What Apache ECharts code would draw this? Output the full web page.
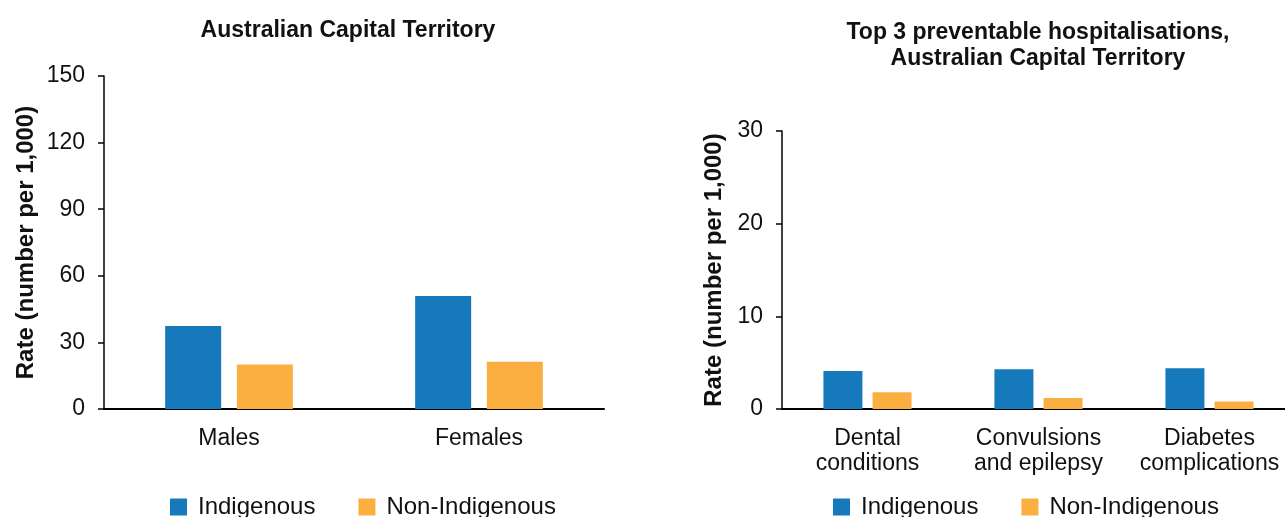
<!DOCTYPE html>
<html>
<head>
<meta charset="utf-8">
<script src="https://cdn.jsdelivr.net/npm/echarts@6/dist/echarts.min.js"></script>
<style>
  html, body { margin: 0; padding: 0; background: #fff; }
  #chart { width: 1285px; height: 517px; }
</style>
</head>
<body>
<div id="chart"></div>
<script>
"use strict";

const seriesNames = ["Indigenous", "Non-Indigenous"];

// left panel: rates by sex
const sexCategories = ["Males", "Females"];
const sexIndigenous = [37.4, 50.9];
const sexNonIndigenous = [20.0, 21.3];
const sexTicks = [0, 30, 60, 90, 120, 150];

// right panel: top 3 preventable hospitalisations
const condCategories = ["Dental\nconditions", "Convulsions\nand epilepsy", "Diabetes\ncomplications"];
const condIndigenous = [4.1, 4.3, 4.4];
const condNonIndigenous = [1.8, 1.2, 0.8];
const condTicks = [0, 10, 20, 30];

const BLUE = "#1579bb";
const ORANGE = "#fbaf41";
const FONT = "Liberation Sans, Arial, sans-serif";
const TEXT = "#111";

const chart = echarts.init(document.getElementById("chart"));

const yAxisBase = (ticks, gridIndex, nameGap) => ({
  type: "value",
  gridIndex,
  min: ticks[0],
  max: ticks[ticks.length - 1],
  interval: ticks[1] - ticks[0],
  name: "Rate (number per 1,000)",
  nameLocation: "middle",
  nameRotate: 90,
  nameGap,
  nameTextStyle: { fontFamily: FONT, fontSize: 24, fontWeight: "bold", color: TEXT },
  axisLine: { show: true, lineStyle: { color: "#000", width: 1.5 } },
  axisTick: { show: true, length: 6, lineStyle: { color: "#000", width: 1.5 } },
  axisLabel: { fontFamily: FONT, fontSize: 23, color: TEXT, margin: 19 },
  splitLine: { show: false },
});

const xAxisBase = (cats, gridIndex) => ({
  type: "category",
  gridIndex,
  data: cats,
  axisLine: { show: true, lineStyle: { color: "#000", width: 2 } },
  axisTick: { show: false },
  axisLabel: { fontFamily: FONT, fontSize: 23, color: TEXT, margin: 17, lineHeight: 25, interval: 0 },
});

const legendBase = (left) => ({
  data: seriesNames,
  left,
  top: 495,
  padding: 0,
  itemWidth: 17,
  itemHeight: 17,
  itemGap: 43,
  icon: "rect",
  textStyle: { fontFamily: FONT, fontSize: 24, color: TEXT, padding: [0, 0, 0, 6] },
});

/** @type {echarts.EChartsOption} */
const options = {
  animation: false,
  backgroundColor: "#fff",
  title: [
    {
      text: "Australian Capital Territory",
      left: 343,
      textAlign: "center",
      top: 14,
      textStyle: { fontFamily: FONT, fontSize: 23, fontWeight: "bold", color: TEXT },
    },
    {
      text: "Top 3 preventable hospitalisations,\nAustralian Capital Territory",
      left: 1033,
      textAlign: "center",
      top: 15,
      textStyle: { fontFamily: FONT, fontSize: 23, fontWeight: "bold", color: TEXT, lineHeight: 26 },
    },
  ],
  legend: [legendBase(170), legendBase(833)],
  grid: [
    { left: 104, top: 76, width: 500, height: 333, outerBoundsMode: "none" },
    { left: 782, top: 131, width: 513, height: 278, outerBoundsMode: "none" },
  ],
  xAxis: [xAxisBase(sexCategories, 0), xAxisBase(condCategories, 1)],
  yAxis: [yAxisBase(sexTicks, 0, 66), yAxisBase(condTicks, 1, 56)],
  series: [
    {
      name: "Indigenous", type: "bar", xAxisIndex: 0, yAxisIndex: 0,
      data: sexIndigenous, barWidth: 56, barGap: "28%", itemStyle: { color: BLUE },
    },
    {
      name: "Non-Indigenous", type: "bar", xAxisIndex: 0, yAxisIndex: 0,
      data: sexNonIndigenous, barWidth: 56, barGap: "28%", itemStyle: { color: ORANGE },
    },
    {
      name: "Indigenous", type: "bar", xAxisIndex: 1, yAxisIndex: 1,
      data: condIndigenous, barWidth: 39, barGap: "26%", itemStyle: { color: BLUE },
    },
    {
      name: "Non-Indigenous", type: "bar", xAxisIndex: 1, yAxisIndex: 1,
      data: condNonIndigenous, barWidth: 39, barGap: "26%", itemStyle: { color: ORANGE },
    },
  ],
};

chart.setOption(options);
</script>
</body>
</html>
